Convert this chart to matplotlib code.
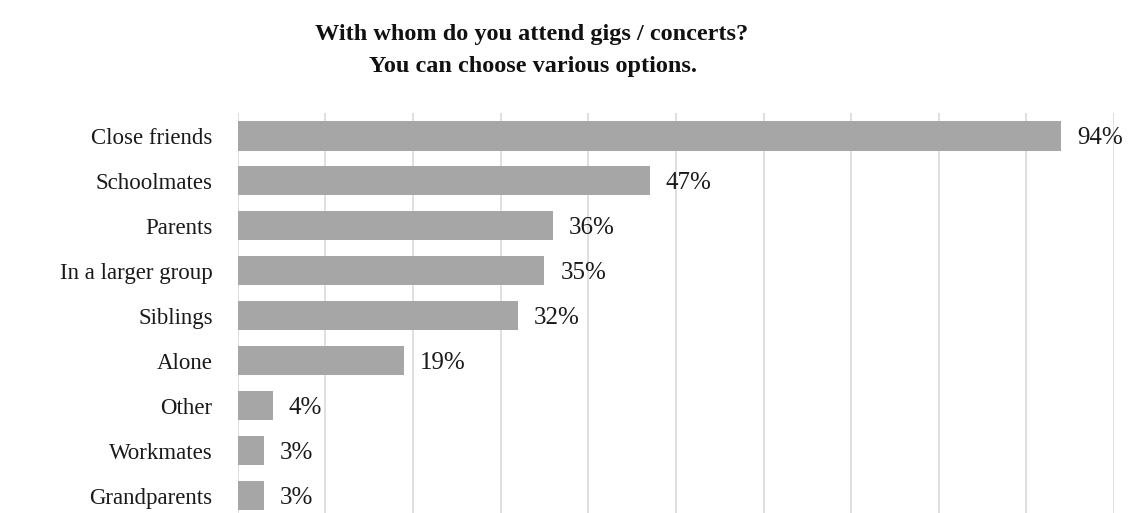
"""Horizontal bar chart: with whom do you attend gigs / concerts"""

import matplotlib
matplotlib.use('Agg')
import matplotlib.pyplot as plt
import numpy as np

# data, top to bottom
categories = ['Close friends', 'Schoolmates', 'Parents', 'In a larger group',
              'Siblings', 'Alone', 'Other', 'Workmates', 'Grandparents']
shares = [0.94, 0.47, 0.36, 0.35, 0.32, 0.19, 0.04, 0.03, 0.03]
value_labels = ['94%', '47%', '36%', '35%', '32%', '19%', '4%', '3%', '3%']
grid_ticks = [0.0, 0.1, 0.2, 0.3, 0.4, 0.5, 0.6, 0.7, 0.8, 0.9, 1.0]

plt.rcParams['font.family'] = ['Liberation Serif', 'DejaVu Serif']

fig = plt.figure(figsize=(11.31, 5.13), dpi=100)
# plot area runs slightly past the bottom edge, like the cropped original
ax = fig.add_axes([0.2102, -0.0097, 0.7748, 0.7885])

y = np.arange(len(categories))
ax.barh(y, shares, height=0.65, color='#a6a6a6', zorder=2)

for yi, val, lab in zip(y, shares, value_labels):
    ax.annotate(lab, (val, yi), xytext=(11.5, 0), textcoords='offset points',
                ha='left', va='center_baseline', fontsize=18, color='#1a1a1a')

ax.set_xlim(0, 1.0)
ax.set_ylim(len(categories) - 0.5, -0.5)
ax.set_xticks(grid_ticks)
ax.set_yticks(y)
ax.set_yticklabels(categories, fontsize=16.5, color='#1a1a1a', va='center_baseline')
ax.tick_params(axis='y', length=0, pad=18)
ax.tick_params(axis='x', length=0, labelbottom=False)
ax.grid(axis='x', color='#d9d9d9', linewidth=1.2, zorder=0)
ax.set_axisbelow(True)
for s in ax.spines.values():
    s.set_visible(False)

# two title lines, placed separately to get the spacing right
fig.text(0.470, 1 - 35 / 513, 'With whom do you attend gigs / concerts?',
         ha='center', va='center', fontsize=17.5, fontweight='bold', color='#111111')
fig.text(0.471, 1 - 67 / 513, 'You can choose various options.',
         ha='center', va='center', fontsize=17.5, fontweight='bold', color='#111111')

fig.savefig('out.png', dpi=100)
